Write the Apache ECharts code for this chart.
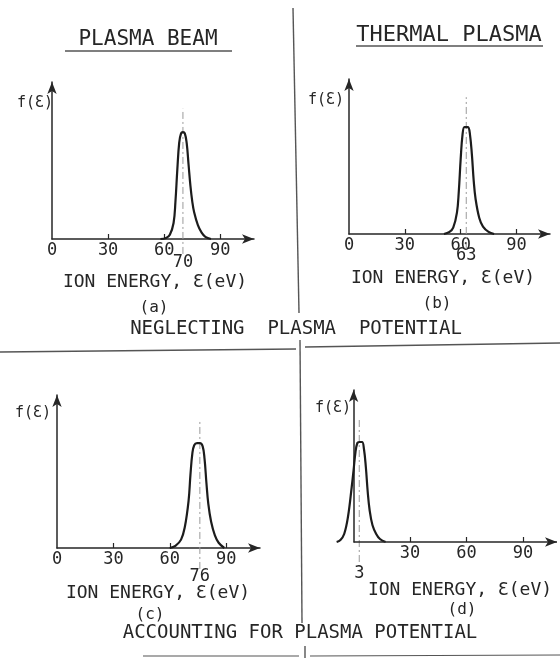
<!DOCTYPE html>
<html>
<head>
<meta charset="utf-8">
<script src="https://cdn.jsdelivr.net/npm/echarts@6/dist/echarts.min.js"></script>
<style>
  html, body { margin: 0; padding: 0; background: #fff; }
  #chart { width: 560px; height: 658px; }
</style>
</head>
<body>
<div id="chart"></div>
<script>
// ion energy distributions f(E), normalised so the peak is 1
const xTickValues = [0, 30, 60, 90]
const xTickValuesD = [30, 60, 90]
const peakEnergies = [70, 63, 76, 3]
const panelLetters = ['(a)', '(b)', '(c)', '(d)']

// [energy eV, f]
const curveA = [[58, 0], [61, 0.01], [63, 0.04], [65, 0.15], [66, 0.35], [67, 0.65], [68, 0.9],
  [69, 0.99], [70, 1], [71, 0.99], [72, 0.9], [73, 0.7], [74, 0.5], [75, 0.35], [76, 0.25],
  [78, 0.13], [80, 0.06], [82, 0.02], [85, 0]]
const curveB = [[51, 0], [54, 0.02], [56, 0.06], [58, 0.2], [59, 0.4], [60, 0.7], [61, 0.93],
  [62, 1], [63, 1], [64, 1], [65, 0.93], [66, 0.75], [67, 0.5], [68, 0.33], [70, 0.15],
  [72, 0.07], [75, 0.02], [78, 0]]
const curveC = [[60, 0], [63, 0.02], [66, 0.08], [68, 0.2], [70, 0.45], [71, 0.7], [72, 0.9],
  [73, 0.98], [74.5, 1], [76, 1], [77.5, 0.97], [78.5, 0.85], [79.5, 0.62], [80.5, 0.42],
  [82, 0.25], [84, 0.12], [86, 0.05], [89, 0]]
const curveD = [[-9, 0], [-7, 0.02], [-5, 0.08], [-3, 0.25], [-1, 0.55], [0, 0.72], [1, 0.9],
  [2, 0.99], [3, 1], [4.5, 1], [5.5, 0.93], [6.5, 0.75], [7.5, 0.5], [8.5, 0.32], [10, 0.17],
  [12, 0.08], [14, 0.03], [17, 0]]

const curves = [curveA, curveB, curveC, curveD]

// layout of the four panels (pixels) and axis ranges
// panel (d) starts below zero so the left tail of its peak shows
const grids = [
  { left: 52, top: 82, width: 202, height: 157 },
  { left: 349, top: 79, width: 201, height: 155 },
  { left: 57, top: 395, width: 203, height: 153 },
  { left: 331, top: 390, width: 226, height: 152 }
]
const xMin = [0, 0, 0, -12]
const xMax = 108
const yMax = [1.47, 1.45, 1.46, 1.52]
const guideTop = [1.22, 1.28, 1.23, 1.25]
const guideBottom = [-0.14, -0.14, -0.2, -0.2]
const peakLabelOffset = [12, 10, 17, 20]

const MONO = '"DejaVu Sans Mono", monospace'
const INK = '#262626'

const chart = echarts.init(document.getElementById('chart'))

const axisLineStyle = { color: INK, width: 1.5 }

const xAxes = []
const yAxes = []
const series = []

grids.forEach((g, i) => {
  const ownLine = xMin[i] < 0
  // main energy axis
  xAxes.push({
    type: 'value',
    gridIndex: i,
    position: 'bottom',
    min: xMin[i],
    max: xMax,
    axisLine: {
      show: !ownLine,
      symbol: ['none', 'arrow'],
      symbolSize: [7, 12],
      lineStyle: axisLineStyle
    },
    axisTick: {
      show: true,
      inside: true,
      length: 5,
      customValues: [30, 60, 90],
      lineStyle: { color: INK, width: 1.2 }
    },
    axisLabel: {
      customValues: i === 3 ? xTickValuesD : xTickValues,
      margin: 3,
      fontFamily: MONO,
      fontSize: 17,
      color: INK
    },
    splitLine: { show: false }
  })
  // second label row: peak energy
  xAxes.push({
    type: 'value',
    gridIndex: i,
    position: 'bottom',
    offset: peakLabelOffset[i],
    min: xMin[i],
    max: xMax,
    axisLine: { show: false, onZero: false },
    axisTick: { show: false },
    axisLabel: {
      customValues: [peakEnergies[i]],
      margin: 3,
      fontFamily: MONO,
      fontSize: 17,
      color: INK
    },
    splitLine: { show: false }
  })
  yAxes.push({
    type: 'value',
    gridIndex: i,
    min: 0,
    max: yMax[i],
    axisLine: {
      show: true,
      onZero: true,
      onZeroAxisIndex: i * 2,
      symbol: ['none', 'arrow'],
      symbolSize: [7, 12],
      lineStyle: axisLineStyle
    },
    axisTick: { show: false },
    axisLabel: { show: false },
    splitLine: { show: false }
  })

  const curve = {
    type: 'line',
    xAxisIndex: i * 2,
    yAxisIndex: i,
    data: curves[i],
    smooth: 0.4,
    symbol: 'none',
    clip: false,
    lineStyle: { color: '#1c1c1c', width: 2.2 },
    z: 3
  }
  if (ownLine) {
    // energy axis drawn from zero only
    curve.markLine = {
      silent: true,
      symbol: ['none', 'arrow'],
      symbolSize: [7, 12],
      label: { show: false },
      lineStyle: { color: INK, width: 1.5, type: 'solid' },
      data: [[{ coord: [0, 0] }, { coord: [xMax, 0] }]]
    }
  }
  series.push(curve)

  // dash-dot guide through the peak
  series.push({
    type: 'line',
    xAxisIndex: i * 2,
    yAxisIndex: i,
    data: [[peakEnergies[i], guideBottom[i]], [peakEnergies[i], guideTop[i]]],
    symbol: 'none',
    clip: false,
    silent: true,
    lineStyle: { color: '#9a9a9a', width: 1, type: [7, 3, 2, 3] },
    z: 2
  })
})

const text = (str, x, y, size) => ({
  type: 'text',
  x: x,
  y: y,
  style: {
    text: str,
    fill: INK,
    font: size + 'px ' + MONO,
    align: 'center',
    verticalAlign: 'middle'
  }
})

const rule = (x1, y1, x2, y2, w) => ({
  type: 'line',
  shape: { x1: x1, y1: y1, x2: x2, y2: y2 },
  style: { stroke: '#555', lineWidth: w || 1.4 }
})

const graphic = [
  text('PLASMA BEAM', 148, 40, 21),
  rule(65, 51, 232, 51),
  text('THERMAL PLASMA', 449, 35, 22),
  rule(356, 46, 543, 46),

  text('f(Ɛ)', 35, 103, 15),
  text('f(Ɛ)', 326, 100, 15),
  text('f(Ɛ)', 33, 413, 15),
  text('f(Ɛ)', 333, 408, 15),

  text('ION ENERGY, Ɛ(eV)', 155, 282, 18),
  text('ION ENERGY, Ɛ(eV)', 443, 278, 18),
  text('ION ENERGY, Ɛ(eV)', 158, 593, 18),
  text('ION ENERGY, Ɛ(eV)', 460, 590, 18),

  text(panelLetters[0], 154, 308, 16),
  text(panelLetters[1], 437, 304, 16),
  text(panelLetters[2], 150, 615, 16),
  text(panelLetters[3], 462, 610, 16),

  text('NEGLECTING  PLASMA  POTENTIAL', 296, 329, 19),
  text('ACCOUNTING FOR PLASMA POTENTIAL', 300, 633, 19),

  // frame dividers
  rule(293, 8, 299, 313),
  rule(0, 352, 296, 349),
  rule(305, 347, 560, 343),
  rule(300, 340, 302, 623),
  rule(305, 646, 305, 658),
  rule(143, 656, 299, 656, 1.2),
  rule(310, 656, 560, 655, 1.2)
]

chart.setOption({
  animation: false,
  backgroundColor: '#fff',
  grid: grids.map(g => ({ ...g, containLabel: false })),
  xAxis: xAxes,
  yAxis: yAxes,
  series: series,
  graphic: graphic
})
</script>
</body>
</html>
